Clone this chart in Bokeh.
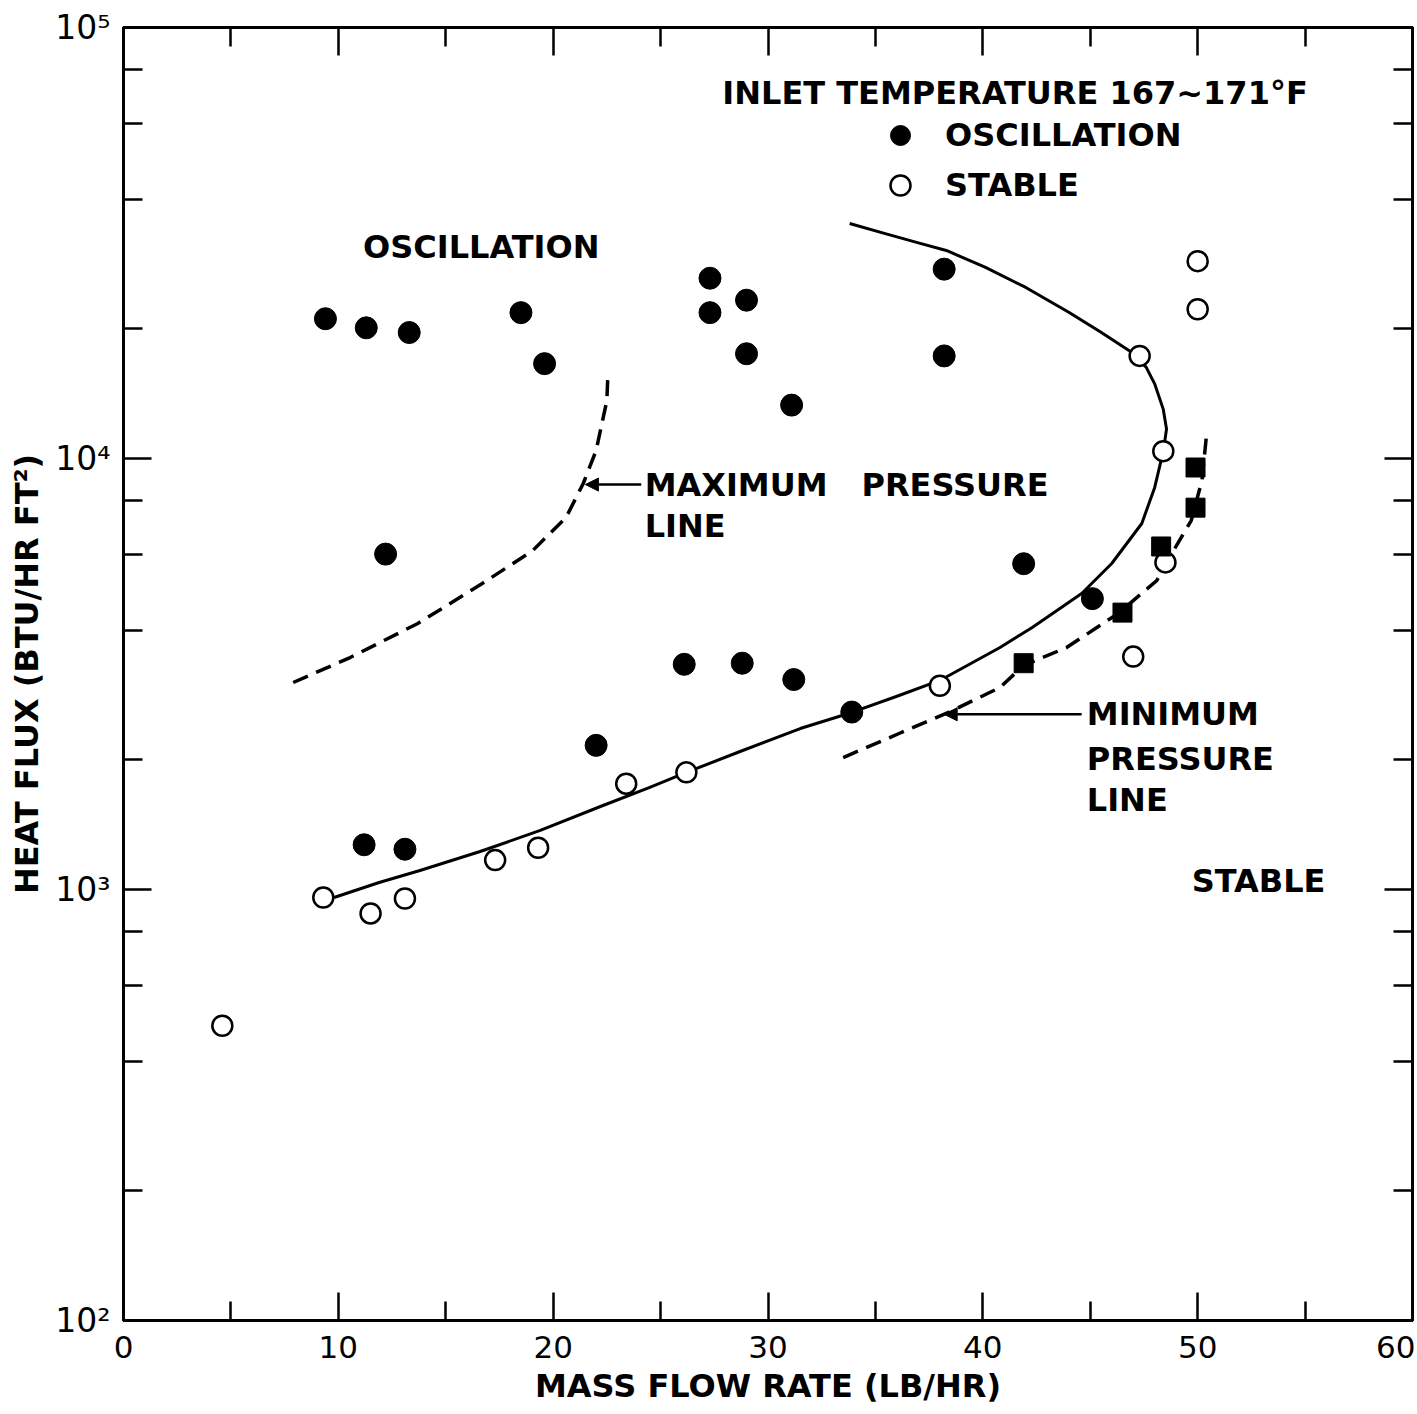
from bokeh.plotting import figure
from bokeh.models import (Range1d, LinearAxis, LogAxis, FixedTicker, Label, Arrow,
                          NormalHead, Legend, LegendItem, CustomJSTickFormatter)
from bokeh.embed import file_html
from bokeh.resources import INLINE

# ---------------- data ----------------
# oscillation (filled circles)
OSC_X = [9.4, 11.3, 13.3, 18.5, 19.6, 27.3, 27.3, 29.0, 29.0, 31.1, 38.2, 38.2,
         12.2, 41.9, 45.1, 26.1, 28.8, 31.2, 33.9, 22.0, 11.2, 13.1]
OSC_Y = [21100, 20100, 19600, 21800, 16600, 26200, 21800, 23300, 17500, 13300, 27500, 17300,
         6000, 5700, 4730, 3330, 3350, 3070, 2580, 2160, 1270, 1240]

# stable (open circles)
STB_X = [9.3, 11.5, 13.1, 17.3, 19.3, 23.4, 26.2, 38.0, 47.0, 48.5, 48.4, 47.3, 50.0, 50.0, 4.6]
STB_Y = [958, 880, 953, 1170, 1250, 1760, 1870, 2970, 3470, 5740, 10400, 17300, 28700, 22200, 483]

# filled squares on the minimum pressure line
SQ_X = [41.9, 46.5, 48.3, 49.9, 49.9]
SQ_Y = [3350, 4390, 6250, 7690, 9530]

# solid stability boundary
NS_X = [9.8, 11.9, 13.8, 16.6, 19.4, 22.2, 24.5, 26.2, 28.7, 31.5, 33.9, 36.1, 38.0,
        40.8, 42.3, 44.6, 46.0, 47.4, 48.0, 48.4, 48.55, 48.4, 48.0, 47.6, 46.8, 45.5,
        44.0, 42.0, 40.1, 38.3, 37.0, 35.5, 33.8]
NS_Y = [958, 1038, 1107, 1225, 1371, 1558, 1725, 1869, 2090, 2363, 2575, 2819, 3055,
        3643, 4055, 4862, 5706, 7067, 8570, 10400, 11700, 13000, 14900, 16290, 17810, 19630,
        21850, 24940, 27790, 30390, 31650, 33210, 35090]

# minimum pressure line (dashed)
MIN_X = [33.5, 36.1, 38.4, 40.8, 41.9, 43.9, 46.3, 48.1, 48.8, 49.7, 50.2, 50.4]
MIN_Y = [2024, 2301, 2575, 2942, 3310, 3643, 4370, 5212, 6020, 7180, 8890, 11190]

# maximum pressure line (dashed)
MAX_X = [7.9, 10.55, 13.7, 16.7, 19.05, 20.6, 21.4, 22.0, 22.5, 22.55]
MAX_Y = [3022, 3453, 4142, 5129, 6116, 7297, 8750, 10437, 13630, 15830]

# ticks
X_TICKS = [0, 10, 20, 30, 40, 50, 60]
X_TICK_LABELS = ["0", "10", "20", "30", "40", "50", "60"]
X_MINOR = [5, 15, 25, 35, 45, 55]
Y_TICKS = [100, 1000, 10000, 100000]
Y_TICK_LABELS = ["10\u00b2", "10\u00b3", "10\u2074", "10\u2075"]
Y_MINOR = [200, 400, 600, 800, 2000, 4000, 6000, 8000, 20000, 40000, 60000, 80000]

FONT = "DejaVu Sans"
WEIGHT = "bold"

p = figure(width=1415, height=1412, x_range=Range1d(0, 60), y_range=Range1d(100, 100000),
           y_axis_type="log", output_backend="svg", toolbar_location=None,
           min_border_left=123, min_border_right=3, min_border_top=27, min_border_bottom=92)
p.xgrid.visible = False
p.ygrid.visible = False
p.outline_line_color = "black"
p.outline_line_width = 3
p.background_fill_color = "white"
p.border_fill_color = "white"

xa = p.below[0]
ya = p.left[0]
top = LinearAxis()
right = LogAxis()
p.add_layout(top, "above")
p.add_layout(right, "right")

blank = CustomJSTickFormatter(code="return ''")

def style(ax, ticks, minors):
    ax.ticker = FixedTicker(ticks=ticks, minor_ticks=minors)
    ax.axis_line_color = "black"
    ax.axis_line_width = 3
    ax.major_tick_in = 28
    ax.major_tick_out = 0
    ax.minor_tick_in = 19
    ax.minor_tick_out = 0
    ax.major_tick_line_width = 2.5
    ax.minor_tick_line_width = 2.5
    ax.major_tick_line_color = "black"
    ax.minor_tick_line_color = "black"
    ax.major_label_text_font = FONT
    ax.major_label_text_font_style = "normal"
    ax.major_label_text_color = "black"
    ax.axis_label_text_font = FONT
    ax.axis_label_text_font_style = WEIGHT
    ax.axis_label_text_color = "black"

style(xa, X_TICKS, X_MINOR)
style(top, X_TICKS, X_MINOR)
style(ya, Y_TICKS, Y_MINOR)
style(right, Y_TICKS, Y_MINOR)

xa.major_label_overrides = {t: l for t, l in zip(X_TICKS, X_TICK_LABELS)}
xa.major_label_text_font_size = "31px"
xa.major_label_standoff = 15
xa.axis_label = "MASS FLOW RATE (LB/HR)"
xa.axis_label_text_font_size = "32px"
xa.axis_label_standoff = 6

ya.major_label_overrides = {t: l for t, l in zip(Y_TICKS, Y_TICK_LABELS)}
ya.major_label_text_font_size = "33px"
ya.major_label_standoff = 13
ya.axis_label = "HEAT FLUX (BTU/HR FT\u00b2)"
ya.axis_label_text_font_size = "32px"
ya.axis_label_standoff = 6

for ax in (top, right):
    ax.formatter = blank
    ax.major_label_standoff = 0
    ax.major_label_text_font_size = "1px"

# curves
p.line(NS_X, NS_Y, line_color="black", line_width=3, line_join="round")
p.line(MIN_X, MIN_Y, line_color="black", line_width=3.5, line_dash="16 9")
p.line(MAX_X, MAX_Y, line_color="black", line_width=3.5, line_dash="16 9")

# points
r_osc = p.scatter(OSC_X, OSC_Y, marker="circle", size=22, fill_color="black", line_color="black")
r_stb = p.scatter(STB_X, STB_Y, marker="circle", size=20, fill_color="white",
                  line_color="black", line_width=2.5)
p.scatter(SQ_X, SQ_Y, marker="square", size=19, fill_color="black", line_color="black")

# legend
legend = Legend(items=[LegendItem(label="OSCILLATION", renderers=[r_osc]),
                       LegendItem(label="STABLE", renderers=[r_stb])],
                location=(752, 1110), glyph_width=50, glyph_height=50, spacing=-3,
                label_standoff=20, padding=0, margin=0,
                label_text_font=FONT, label_text_font_size="32px", label_text_color="black",
                label_text_font_style=WEIGHT,
                border_line_alpha=0, background_fill_alpha=0)
p.add_layout(legend)

# texts
def lab(x, y, t, align="left"):
    p.add_layout(Label(x=x, y=y, text=t, text_font=FONT, text_font_size="32px",
                       text_font_style=WEIGHT,
                       text_color="black", text_align=align, text_baseline="middle"))

lab(41.5, 70600, "INLET TEMPERATURE 167~171\u00b0F", "center")
lab(11.15, 30900, "OSCILLATION")
lab(24.26, 8700, "MAXIMUM")
lab(34.35, 8700, "PRESSURE")
lab(24.26, 6990, "LINE")
lab(44.84, 2550, "MINIMUM")
lab(44.84, 2013, "PRESSURE")
lab(44.84, 1609, "LINE")
lab(49.72, 1049, "STABLE")

# arrows
p.add_layout(Arrow(end=NormalHead(size=13, line_color="black", fill_color="black", line_width=1),
                   x_start=24.1, y_start=8700, x_end=21.5, y_end=8700,
                   line_color="black", line_width=2.5))
p.add_layout(Arrow(end=NormalHead(size=13, line_color="black", fill_color="black", line_width=1),
                   x_start=44.6, y_start=2550, x_end=38.2, y_end=2550,
                   line_color="black", line_width=2.5))

open("out.html", "w").write(file_html(p, INLINE))
